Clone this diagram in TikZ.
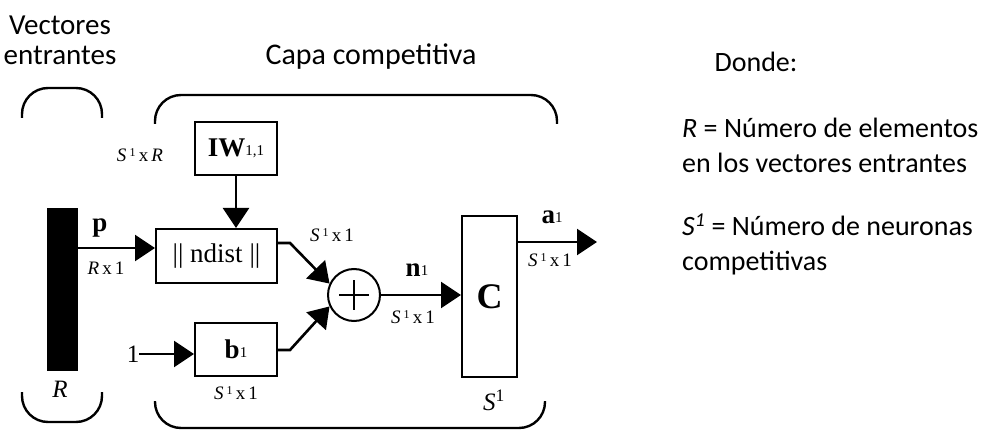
\documentclass[tikz,border=0pt]{standalone}
\usepackage{fontspec}
\setmainfont{Carlito}
\newfontfamily\tm{Liberation Serif}
\usetikzlibrary{arrows.meta,calc}
\newcommand{\sxone}[1]{\textit{S}\,\raisebox{5pt}{\fontsize{12}{13}\selectfont 1}\,x\,#1}
\begin{document}
\begin{tikzpicture}[x=1pt,y=-1pt,
  wire/.style={line width=2.6pt,-{Triangle[length=20pt,width=26pt]}},
  blk/.style={draw,line width=2pt,inner sep=0pt,fill=white},
  brace/.style={line width=2.4pt,rounded corners=26pt},
  lbl/.style={inner sep=0pt,font=\tm\fontsize{19}{21}\selectfont},
  big/.style={inner sep=0pt,font=\tm\bfseries\fontsize{27}{29}\selectfont},
  txt/.style={inner sep=0pt,font=\fontsize{28}{35}\selectfont}
]
\useasboundingbox (0,0) rectangle (987,430);
% headings
\node[txt,align=center,font=\fontsize{29}{30}\selectfont] (vec) at (60,40) {Vectores\\entrantes};
\node[txt,font=\fontsize{30}{35}\selectfont] (capa) at (371,57) {Capa competitiva};
\node[txt] (donde) at (756,62) {Donde:};
\node[txt,anchor=west,align=left] (def1) at (682,145.5) {\textit{R} = Número de elementos\\en los vectores entrantes};
\node[txt,anchor=west,align=left] (def2) at (682,244) {\textit{S\textsuperscript{1}} = Número de neuronas\\competitivas};
% braces
\draw[brace] (22,118) -- (22,88) -- (102,88) -- (102,118);
\draw[brace] (22,392) -- (22,422) -- (102,422) -- (102,392);
\draw[brace] (155,124) -- (155,95) -- (557,95) -- (557,124);
\draw[brace] (155,401) -- (155,428) -- (545,428) -- (545,401);
% blocks
\node[draw,fill=black,minimum width=30pt,minimum height=162pt,inner sep=0pt] (bar) at (62,289) {};
\node[blk,minimum width=121pt,minimum height=54pt,font=\tm\fontsize{27}{29}\selectfont] (nd) at (216.5,256) {|| ndist ||};
\node[blk,minimum width=82pt,minimum height=53pt] (iw) at (236,148.5) {\tm\bfseries\fontsize{27}{29}\selectfont IW\raisebox{1pt}{\mdseries\fontsize{15}{16}\selectfont 1,1}};
\node[blk,minimum width=82pt,minimum height=53pt] (bb) at (236,349.5) {\tm\bfseries\fontsize{27}{29}\selectfont b\raisebox{1pt}{\mdseries\fontsize{15}{16}\selectfont 1}};
\node[draw,circle,line width=2pt,minimum size=52pt,inner sep=0pt] (sum) at (354,295) {};
\draw[line width=2.4pt] ($(sum)+(-15,0)$) -- ($(sum)+(15,0)$) ($(sum)+(0,-15)$) -- ($(sum)+(0,15)$);
\node[blk,minimum width=55pt,minimum height=161pt] (cc) at (489.5,296.5) {\tm\bfseries\fontsize{36}{38}\selectfont C};
\node[inner sep=0pt,font=\tm\fontsize{25}{27}\selectfont] (one) at (133,354) {1};
\coordinate (aout) at (597,242);
\coordinate (ndo) at (290,243);
\coordinate (bo) at (290,350);
% connectors
\draw[wire] (bar.east |- 0,248) -- (nd.west |- 0,248);
\draw[wire] (iw.south) -- (iw.south |- nd.north);
\draw[wire] (one.east) -- (bb.west |- one.east);
\draw[wire] (nd.east |- ndo) -- (ndo) -- (sum.155);
\draw[wire] (bb.east |- bo) -- (bo) -- (sum.205);
\draw[wire] (sum.east) -- (sum.east -| cc.west);
\draw[wire] (cc.east |- aout) -- (aout);
% labels
\node[big] (lp) at (100,228) {p};
\node[lbl] (lrx) at (106,268) {\textit{R}\,x\,1};
\node[lbl] (lsr) at (140,155) {\sxone{\textit{R}}};
\node[lbl] (lsb) at (236,393) {\sxone{1}};
\node[lbl] (lsn) at (332,235) {\sxone{1}};
\node[big] (ln) at (417,270) {n\raisebox{1pt}{\mdseries\fontsize{15}{16}\selectfont 1}};
\node[lbl] (lsn2) at (413,317) {\sxone{1}};
\node[big] (la) at (552,217) {a\raisebox{1pt}{\mdseries\fontsize{15}{16}\selectfont 1}};
\node[lbl] (lsa) at (550,260) {\sxone{1}};
\node[inner sep=0pt,font=\tm\itshape\fontsize{25}{27}\selectfont] (lsc) at (494,400) {S\textsuperscript{\upshape 1}};
\node[inner sep=0pt,font=\tm\itshape\fontsize{25}{27}\selectfont] (lr) at (60,389) {R};
\end{tikzpicture}
\end{document}
